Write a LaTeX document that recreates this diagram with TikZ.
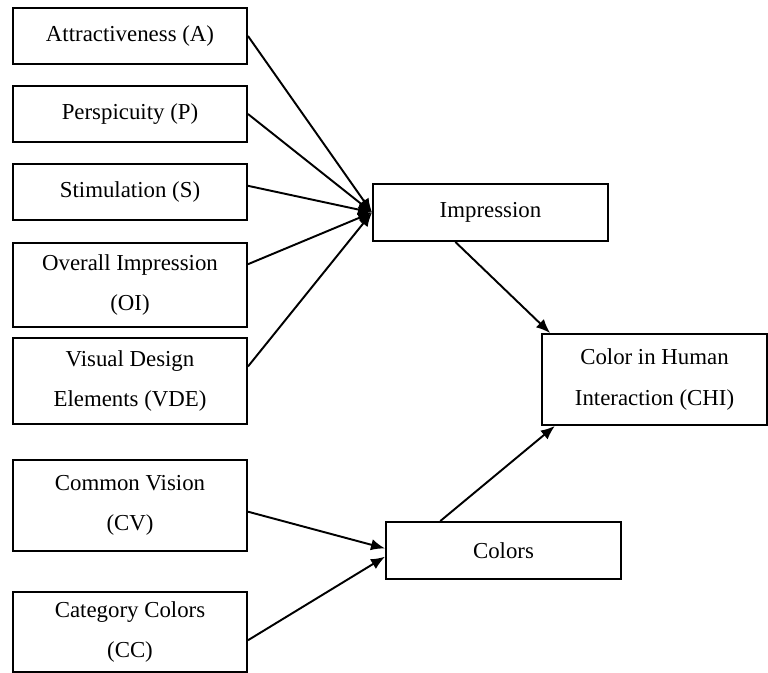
\documentclass[tikz,border=0pt]{standalone}
\usepackage{fontspec}
\setmainfont{Liberation Serif}
\usetikzlibrary{arrows.meta}
\tikzset{
    every node/.style={rectangle, draw, line width=1.1pt, align=center, inner sep=0mm,
        font=\fontsize{13}{22.8}\selectfont}
}
\tikzset{leftbox/.style={minimum width=4.68cm}}

\begin{document}
\begin{tikzpicture}[line width=1.1pt, >={Latex[length=8pt, width=6.5pt]}]
    \useasboundingbox (0cm, 0cm) rectangle (15.36cm, -13.46cm);

    \node (att) at (2.60cm, -0.72cm) [leftbox, minimum height=1.12cm] {Attractiveness (A)};
    \node (per) at (2.60cm, -2.28cm) [leftbox, minimum height=1.12cm] {Perspicuity (P)};
    \node (sti) at (2.60cm, -3.84cm) [leftbox, minimum height=1.12cm] {Stimulation (S)};
    \node (ovi) at (2.60cm, -5.70cm) [leftbox, minimum height=1.68cm] {Overall Impression\\(OI)};
    \node (vde) at (2.60cm, -7.62cm) [leftbox, minimum height=1.72cm] {Visual Design\\Elements (VDE)};
    \node (cov) at (2.60cm, -10.11cm) [leftbox, minimum height=1.82cm] {Common Vision\\(CV)};
    \node (cac) at (2.60cm, -12.64cm) [leftbox, minimum height=1.60cm] {Category Colors\\(CC)};

    \node (imp) at (9.81cm, -4.25cm) [minimum width=4.70cm, minimum height=1.14cm] {Impression};
    \node (col) at (10.07cm, -11.01cm) [minimum width=4.70cm, minimum height=1.14cm] {Colors};
    \node (chi) at (13.09cm, -7.59cm) [minimum width=4.50cm, minimum height=1.82cm] {Color in Human\\Interaction (CHI)};

    \draw (att.east) edge[->] (imp.west);
    \draw (per.east) edge[->] (imp.west);
    \draw (sti.3) edge[->] (imp.west);
    \draw (ovi.10) edge[->] (imp.west);
    \draw (vde.7) edge[->] (imp.west);

    \draw (cov.-3) edge[->] (col.179);
    \draw (cac.-4) edge[->] (col.183);

    \draw (imp.220) edge[->] (chi.156);
    \draw (col.155) edge[->] (chi.205);
\end{tikzpicture}
\end{document}
